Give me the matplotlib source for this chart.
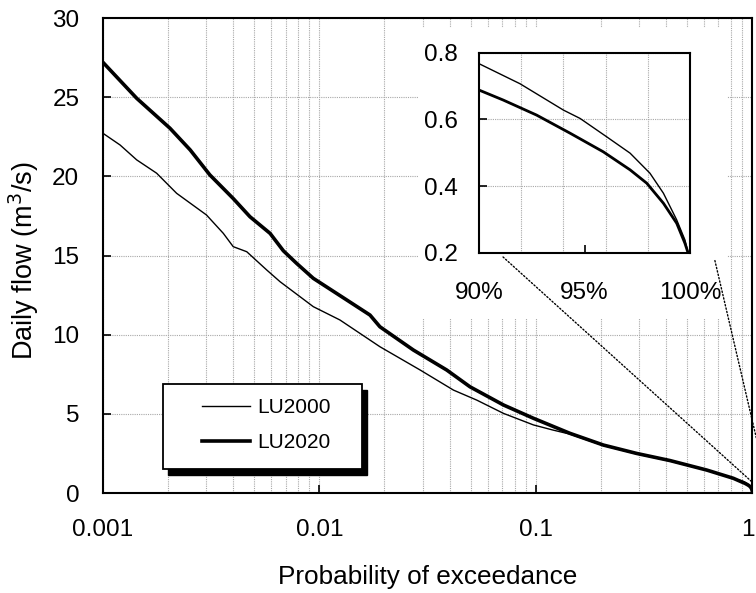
import numpy as np
import matplotlib
matplotlib.use('Agg')
import matplotlib.pyplot as plt
from matplotlib.patches import Rectangle, ConnectionPatch
from matplotlib.ticker import PercentFormatter, FixedLocator
from matplotlib.transforms import ScaledTranslation

plt.rcParams['font.family'] = ['Liberation Sans', 'DejaVu Sans']

# flow duration curves
prob_lu2000 = [0.001, 0.0012, 0.001432, 0.00177, 0.00219, 0.00301, 0.0036, 0.004, 0.00462,
               0.00571, 0.00658, 0.00938, 0.01245, 0.01906, 0.02924, 0.0417, 0.0534, 0.071,
               0.0977, 0.12, 0.144, 0.2056, 0.293, 0.418, 0.618, 0.82]
flow_lu2000 = [22.72, 21.98, 21.04, 20.2, 18.93, 17.56, 16.4, 15.56, 15.24,
               14.09, 13.35, 11.77, 10.93, 9.24, 7.77, 6.5, 5.87, 5.03,
               4.3, 3.98, 3.72, 3.0, 2.47, 2.02, 1.43, 0.92]

prob_lu2020 = [0.001, 0.001432, 0.00204, 0.00253, 0.00312, 0.004, 0.00478, 0.00592, 0.00682,
               0.00786, 0.00938, 0.0134, 0.01715, 0.01906, 0.02722, 0.0388, 0.0497, 0.071,
               0.0977, 0.144, 0.2056, 0.293, 0.418, 0.618, 0.82]
flow_lu2020 = [27.2, 24.93, 23.04, 21.67, 20.09, 18.6, 17.45, 16.4, 15.3,
               14.5, 13.56, 12.19, 11.24, 10.5, 9.03, 7.77, 6.71, 5.56,
               4.72, 3.77, 3.03, 2.5, 2.05, 1.45, 0.93]

# low-flow tail shown in the inset (90% - 100%)
tail_prob_lu2000 = [0.90, 0.9194, 0.94, 0.9479, 0.9605, 0.9716, 0.981, 0.9874, 0.9937, 0.9976, 0.9991]
tail_flow_lu2000 = [0.767, 0.707, 0.628, 0.603, 0.548, 0.499, 0.439, 0.379, 0.299, 0.239, 0.2]
tail_prob_lu2020 = [0.90, 0.9115, 0.9273, 0.9431, 0.9589, 0.9716, 0.9795, 0.9874, 0.9937, 0.9976, 0.9991]
tail_flow_lu2020 = [0.688, 0.658, 0.613, 0.559, 0.503, 0.449, 0.409, 0.349, 0.289, 0.229, 0.2]

labels = ['LU2000', 'LU2020']
xticks = [0.001, 0.01, 0.1, 1]
xtick_labels = ['0.001', '0.01', '0.1', '1']
yticks = [0, 5, 10, 15, 20, 25, 30]

grid_kw = dict(color='#a8a8a8', linewidth=0.8, linestyle=(0, (1, 1)))

fig = plt.figure(figsize=(7.56, 5.93), dpi=100)
ax = fig.add_axes([0.1362, 0.1686, 0.8585, 0.801])

x2000 = prob_lu2000 + tail_prob_lu2000
y2000 = flow_lu2000 + tail_flow_lu2000
x2020 = prob_lu2020 + tail_prob_lu2020
y2020 = flow_lu2020 + tail_flow_lu2020

l1, = ax.plot(x2000, y2000, color='black', lw=1.0, label=labels[0])
l2, = ax.plot(x2020, y2020, color='black', lw=2.6, label=labels[1])

ax.set_xscale('log')
ax.set_xlim(0.001, 1)
ax.set_ylim(0, 30)
ax.set_xticks(xticks, xtick_labels)
ax.set_yticks(yticks)
ax.xaxis.set_minor_locator(FixedLocator([m * d for d in [0.001, 0.01, 0.1] for m in range(2, 10)]))
ax.xaxis.set_minor_formatter(plt.NullFormatter())
ax.tick_params(which='major', direction='in', length=6, width=1.2, labelsize=17.5)
ax.tick_params(axis='y', which='major', pad=17)
ax.tick_params(axis='x', which='major', pad=19)
ax.tick_params(which='minor', length=0)
ax.grid(True, axis='x', which='both', **grid_kw)
ax.grid(True, axis='y', which='major', **grid_kw)
ax.set_axisbelow(True)
for s in ax.spines.values():
    s.set_linewidth(1.5)

# nudge the "1" label so it stays inside the figure
last = ax.xaxis.get_major_ticks()[-1].label1
last.set_transform(last.get_transform() + ScaledTranslation(-3 / 72, 0, fig.dpi_scale_trans))

ax.set_xlabel('Probability of exceedance', fontsize=18.8)
ax.set_ylabel('Daily flow (m$^3$/s)', fontsize=19.5)
ax.xaxis.set_label_coords(0.5, -0.152)
ax.yaxis.set_label_coords(-0.095, 0.49)

# legend with a hard black shadow
ax.add_patch(Rectangle((0.0924 + 0.0077, 0.0505 - 0.0126), 0.3066, 0.179, transform=ax.transAxes,
                       fc='black', ec='black', zorder=4))
ax.add_patch(Rectangle((0.0924, 0.0505), 0.3066, 0.179, transform=ax.transAxes,
                       fc='white', ec='black', lw=1.3, zorder=5))
leg = ax.legend(handles=[l1, l2], loc='center left', bbox_to_anchor=(0.1525, 0.143),
                frameon=False, borderpad=0, borderaxespad=0, handlelength=2.3,
                handletextpad=0.35, labelspacing=0.75, fontsize=15)
leg.set_zorder(6)

# white panel behind the inset
fig.patches.append(Rectangle((0.553, 0.4637), 0.4087, 0.489, transform=fig.transFigure,
                             fc='white', ec='none', zorder=1))

ins = fig.add_axes([0.6336, 0.5734, 0.2791, 0.3378], zorder=3)
ins.plot(tail_prob_lu2000, tail_flow_lu2000, color='black', lw=1.0)
ins.plot(tail_prob_lu2020, tail_flow_lu2020, color='black', lw=2.0)
ins.set_xlim(0.9, 1.0)
ins.set_ylim(0.2, 0.8)
ins.set_xticks([0.9, 0.95, 1.0])
ins.xaxis.set_minor_locator(FixedLocator([0.92, 0.94, 0.96, 0.98]))
ins.xaxis.set_major_formatter(PercentFormatter(xmax=1, decimals=0))
ins.set_yticks([0.2, 0.4, 0.6, 0.8])
ins.tick_params(which='major', direction='in', length=6, width=1.2, labelsize=17.5)
ins.tick_params(axis='y', pad=15)
ins.tick_params(axis='x', pad=21)
ins.tick_params(which='minor', length=0)
ins.grid(True, axis='x', which='minor', **grid_kw)
ins.grid(True, axis='y', which='major', **grid_kw)
ins.set_axisbelow(True)
for s in ins.spines.values():
    s.set_linewidth(1.5)

# dotted leader lines from the inset to the curve end
for (xa, ya), (xb, yb) in [((0.114, -0.02), (1.0, 0.7)), ((1.118, -0.038), (1.16, 0.88))]:
    cp = ConnectionPatch(xyA=(xa, ya), coordsA=ins.transAxes, xyB=(xb, yb), coordsB=ax.transData,
                         color='black', lw=1.0, linestyle=(0, (1, 1.5)), zorder=7, clip_on=False)
    fig.add_artist(cp)

fig.savefig('out.png', dpi=100)
